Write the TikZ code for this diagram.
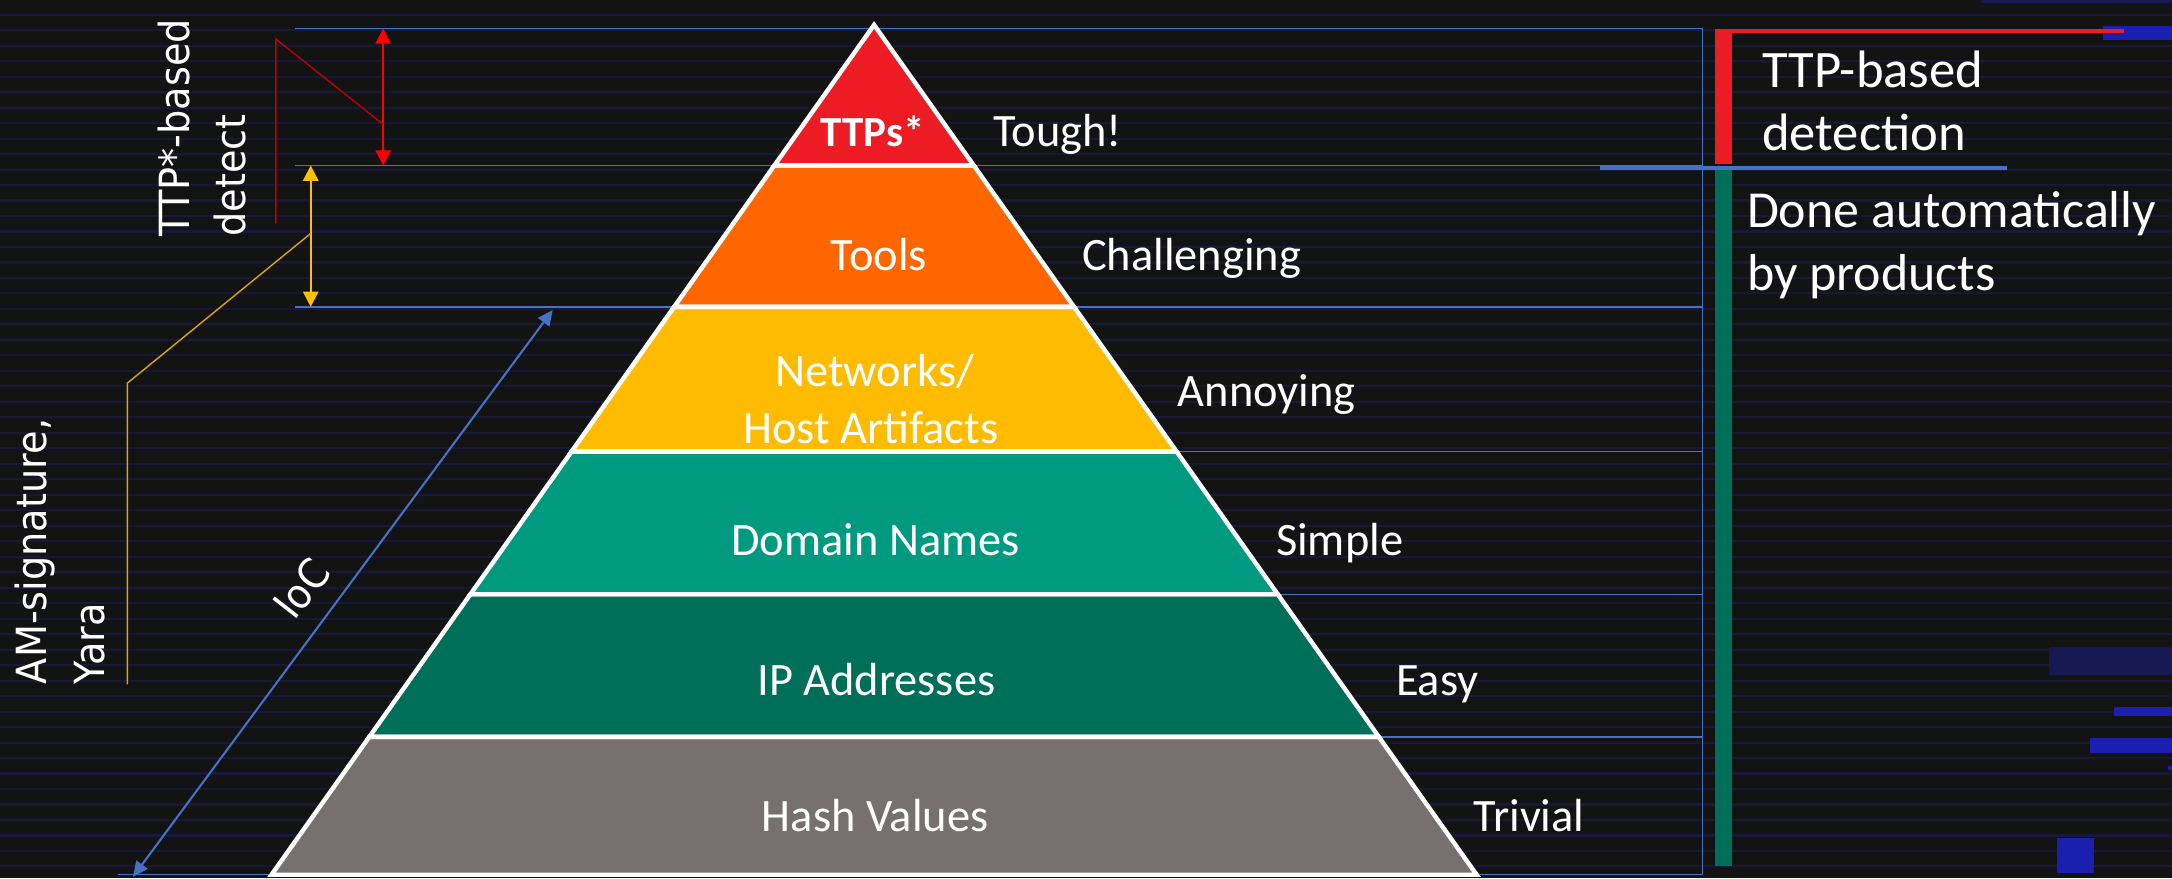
\documentclass[tikz,border=0pt]{standalone}
\usepackage{fontspec}
\setmainfont{Carlito}
\newfontfamily\sidefont[FakeStretch=0.92]{DejaVu Sans}
\usetikzlibrary{arrows.meta}

\definecolor{bg}{RGB}{19,19,20}
\definecolor{stripe}{RGB}{23,25,58}
\definecolor{guideblue}{RGB}{68,114,196}
\definecolor{ttpred}{RGB}{237,28,36}
\definecolor{toolorange}{RGB}{255,102,0}
\definecolor{netamber}{RGB}{255,187,0}
\definecolor{domteal}{RGB}{0,154,129}
\definecolor{ipteal}{RGB}{0,111,90}
\definecolor{hashgray}{RGB}{118,113,112}
\definecolor{arrowred}{RGB}{255,0,0}
\definecolor{leadred}{RGB}{192,0,0}
\definecolor{arrowamber}{RGB}{255,192,0}
\definecolor{leadamber}{RGB}{221,168,0}
\definecolor{blockblue}{RGB}{26,31,176}
\definecolor{navyblock}{RGB}{22,25,84}

\tikzset{
  layer/.style={draw=white, line width=3.2pt, line join=miter},
  layertext/.style={text=white, font=\fontsize{33.5}{38}\selectfont, anchor=base, inner sep=0pt},
  ratetext/.style={text=white, font=\fontsize{33.5}{38}\selectfont, anchor=base west, inner sep=0pt},
  notetext/.style={text=white, anchor=base west, inner sep=0pt},
  sidetext/.style={text=white, font=\sidefont\fontsize{30}{36}\selectfont, rotate=90, anchor=base west, inner sep=0pt},
  guide/.style={draw=guideblue, line width=1pt},
  bothtips/.style={{Triangle[length=11pt,width=11pt]}-{Triangle[length=11pt,width=11pt]}},
  thintips/.style={{Triangle[length=11pt,width=10pt]}-{Triangle[length=11pt,width=10pt]}},
}

\begin{document}
\begin{tikzpicture}[x=1pt,y=-1pt]
% background with faint scan stripes
\fill[bg] (0,0) rectangle (1568,634);
\useasboundingbox (0,0) rectangle (1568,634);
\foreach \k in {0,...,55}
  \draw[stripe, line width=1.5pt] (0,{10.6+11.18*\k}) -- (1568,{10.6+11.18*\k});

% blue blocks along the right edge
\fill[navyblock] (1430,0) rectangle (1568,2.4);
\fill[blockblue] (1518,18.8) rectangle (1568,28.9);
\fill[navyblock] (1479,467) rectangle (1568,487);
\fill[blockblue] (1526,510.5) rectangle (1568,517);
\fill[blockblue] (1509,533) rectangle (1568,543.6);
\fill[blockblue] (1565,553) rectangle (1568,556);
\fill[blockblue] (1485,605) rectangle (1512,630.5);

% level guides
\coordinate (g0l) at (213,20.5);   \coordinate (g0r) at (1229,20.5);
\coordinate (g1l) at (213,119.5);  \coordinate (g1r) at (1229,119.5);
\coordinate (g2l) at (213,221.5);  \coordinate (g2r) at (1229,221.5);
\coordinate (g3l) at (631,326);    \coordinate (g3r) at (1229,326);
\coordinate (g4l) at (631,429);    \coordinate (g4r) at (1229,429);
\coordinate (g5l) at (631,532);    \coordinate (g5r) at (1229,532);
\coordinate (g6l) at (85,631.5);   \coordinate (g6r) at (1229,631.5);
\foreach \i in {0,...,6}
  \draw[guide] (g\i l) -- (g\i r);
\draw[guide] (g0r) -- (g6r);
\coordinate (splitl) at (1155,121.2);
\coordinate (splitr) at (1449,121.2);
\draw[draw=guideblue, line width=2.4pt] (splitl) -- (splitr);

% pyramid layers
\fill[hashgray]   (266.6,532) -- (995.4,532) -- (1066,631.5) -- (196,631.5) -- cycle;
\fill[ipteal]     (339.6,429) -- (922.4,429) -- (995.4,532) -- (266.6,532) -- cycle;
\fill[domteal]    (412.6,326) -- (849.4,326) -- (922.4,429) -- (339.6,429) -- cycle;
\fill[netamber]   (486.7,221.5) -- (775.3,221.5) -- (849.4,326) -- (412.6,326) -- cycle;
\fill[toolorange] (559.0,119.5) -- (703.0,119.5) -- (775.3,221.5) -- (486.7,221.5) -- cycle;
\fill[ttpred]     (631,18) -- (703.0,119.5) -- (559.0,119.5) -- cycle;
\draw[layer] (266.6,532) -- (995.4,532) -- (1066,631.5) -- (196,631.5) -- cycle;
\draw[layer] (339.6,429) -- (922.4,429) -- (995.4,532) -- (266.6,532) -- cycle;
\draw[layer] (412.6,326) -- (849.4,326) -- (922.4,429) -- (339.6,429) -- cycle;
\draw[layer] (486.7,221.5) -- (775.3,221.5) -- (849.4,326) -- (412.6,326) -- cycle;
\draw[layer] (559.0,119.5) -- (703.0,119.5) -- (775.3,221.5) -- (486.7,221.5) -- cycle;
\draw[layer] (631,18) -- (703.0,119.5) -- (559.0,119.5) -- cycle;

% layer names
\node[layertext, font=\fontsize{31}{36}\selectfont\bfseries] (ttps) at (630,106) {TTPs*};
\node[layertext] (tools) at (634.5,195) {Tools};
\node[layertext] (net1) at (631.5,279.2) {Networks/};
\node[layertext] (net2) at (628.6,320) {Host Artifacts};
\node[layertext] (domain) at (632,401) {Domain Names};
\node[layertext] (ip) at (632.6,501.8) {IP Addresses};
\node[layertext] (hash) at (631.8,600.5) {Hash Values};

% difficulty ratings
\node[ratetext] (tough) at (716.8,106) {Tough!};
\node[ratetext] (chall) at (781,195.4) {Challenging};
\node[ratetext] (annoy) at (850.2,293.1) {Annoying};
\node[ratetext] (simple) at (921,401) {Simple};
\node[ratetext] (easy) at (1007.6,502) {Easy};
\node[ratetext] (trivial) at (1063.5,600.5) {Trivial};

% detection bars on the right
\fill[ttpred] (1238,21) rectangle (1250,118.7);
\fill[ttpred] (1238,21) rectangle (1533,23.8);
\fill[ipteal] (1238,123) rectangle (1250,625);
\node[notetext, font=\fontsize{38}{46}\selectfont] (ttpdet1) at (1272,63) {TTP-based};
\node[notetext, font=\fontsize{38}{46}\selectfont] (ttpdet2) at (1272,108.8) {detection};
\node[notetext, font=\fontsize{37.5}{44}\selectfont] (auto1) at (1261,164.4) {Done automatically};
\node[notetext, font=\fontsize{37.5}{44}\selectfont] (auto2) at (1261,210) {by products};

% range arrows on the left
\coordinate (redtop) at (276.6,20.5);
\coordinate (redbot) at (276.6,119.5);
\draw[arrowred, line width=1.5pt, bothtips] (redtop) -- (redbot);
\coordinate (ambtop) at (224.3,119.5);
\coordinate (ambbot) at (224.3,221.5);
\draw[arrowamber, line width=1.5pt, bothtips] (ambtop) -- (ambbot);
\coordinate (iocbot) at (96,633);
\coordinate (ioctop) at (399,223.8);
\draw[guideblue, line width=1.5pt, thintips] (iocbot) -- (ioctop);

% leader lines to the side captions
\coordinate (redleadend) at (199.2,161.3);
\coordinate (redleadcorner) at (199.2,28.2);
\coordinate (redleadhit) at (276.6,89.8);
\draw[leadred, line width=1pt] (redleadend) -- (redleadcorner) -- (redleadhit);
\coordinate (ambleadhit) at (224.3,168.5);
\coordinate (ambleadcorner) at (92,276.5);
\coordinate (ambleadend) at (92,494);
\draw[leadamber, line width=1pt] (ambleadhit) -- (ambleadcorner) -- (ambleadend);

% side captions
\node[sidetext] (side1) at (137,171) {TTP*-based};
\node[sidetext] (side2) at (177.3,171) {detect};
\node[sidetext] (side3) at (33.8,494) {AM-signature,};
\node[sidetext] (side4) at (75.6,494) {Yara};
\node[text=white, font=\sidefont\fontsize{30}{36}\selectfont, rotate=52, inner sep=0pt] (ioc) at (217.8,424.8) {IoC};
\end{tikzpicture}
\end{document}
